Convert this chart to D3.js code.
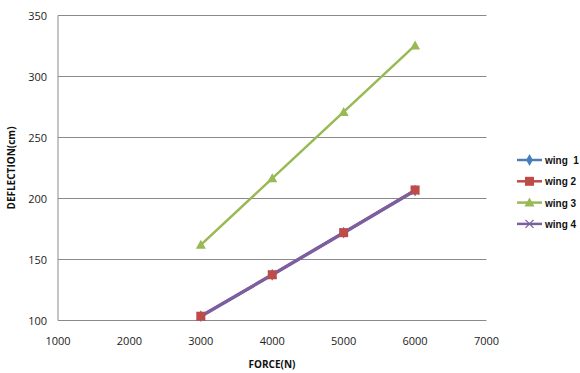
<html>
<head>
  <script src="https://cdn.jsdelivr.net/npm/d3@7"></script>
  <style>
    body { margin:0; background:#fff; }
    text { font-family: "Open Sans", "Liberation Sans", sans-serif; }
  </style>
</head>
<body>
<svg width="580" height="373"></svg>
<script>
// data
const forces = [3000, 4000, 5000, 6000]
const wing1 = [103.5, 137.5, 172, 206.5]
const wing2 = [103.5, 137.5, 172, 207]
const wing3 = [162, 216.5, 271, 325.5]
const wing4 = [103.5, 137.5, 172, 206.5]
const seriesNames = ["wing  1", "wing 2", "wing 3", "wing 4"]
const xTicks = [1000, 2000, 3000, 4000, 5000, 6000, 7000]
const yTicks = [100, 150, 200, 250, 300, 350]

const colors = ["#4A7EBB", "#BE4B48", "#98B954", "#7D5FA0"]
const shapes = ["diamond", "square", "triangle", "x"]

const series = [wing1, wing2, wing3, wing4].map(function(v, i){
  return {name: seriesNames[i], color: colors[i], shape: shapes[i],
          pts: forces.map(function(f, j){ return {x: f, y: v[j]} })}
})

const svg = d3.select("svg")
const pLeft = 58, pRight = 486.5, pTop = 15.5, pBottom = 320.5

const x = d3.scaleLinear().domain([1000, 7000]).range([pLeft, pRight])
const y = d3.scaleLinear().domain([100, 350]).range([pBottom, pTop])

// gridlines
svg.append("g").selectAll("line").data(yTicks).enter().append("line")
  .attr("x1", pLeft).attr("x2", pRight)
  .attr("y1", function(d){ return y(d) }).attr("y2", function(d){ return y(d) })
  .attr("stroke", "#8a8a8a").attr("stroke-width", 1)

// axes
svg.append("line").attr("x1", pLeft).attr("x2", pLeft).attr("y1", pTop).attr("y2", pBottom)
  .attr("stroke", "#8a8a8a")

svg.append("g").selectAll("text").data(yTicks).enter().append("text")
  .attr("x", 47).attr("y", function(d){ return y(d) + 4 })
  .attr("text-anchor", "end").attr("font-size", 11).attr("fill", "#222")
  .text(function(d){ return d })

svg.append("g").selectAll("text").data(xTicks).enter().append("text")
  .attr("x", function(d){ return x(d) }).attr("y", 345)
  .attr("text-anchor", "middle").attr("font-size", 11).attr("fill", "#222")
  .text(function(d){ return d })

svg.append("text").attr("x", 272).attr("y", 368)
  .attr("text-anchor", "middle").attr("font-size", 10).attr("font-weight", "bold")
  .attr("fill", "#111").text("FORCE(N)")

svg.append("text").attr("transform", "translate(15,168) rotate(-90)")
  .attr("text-anchor", "middle").attr("font-size", 10).attr("font-weight", "bold")
  .attr("fill", "#111").text("DEFLECTION(cm)")

// lines
const line = d3.line().x(function(d){ return x(d.x) }).y(function(d){ return y(d.y) })

function marker(g, shape, color, cx, cy){
  if(shape == "diamond"){
    g.append("path").attr("d", d3.symbol().type(d3.symbolDiamond).size(40)())
      .attr("transform", "translate(" + cx + "," + cy + ")").attr("fill", color)
  } else if(shape == "square"){
    g.append("rect").attr("x", cx - 4.5).attr("y", cy - 4.5)
      .attr("width", 9).attr("height", 9).attr("fill", color)
  } else if(shape == "triangle"){
    g.append("path").attr("d", "M" + cx + "," + (cy - 5) + "L" + (cx + 5) + "," + (cy + 4) + "L" + (cx - 5) + "," + (cy + 4) + "Z")
      .attr("fill", color)
  } else {
    g.append("path").attr("d", "M" + (cx - 4) + "," + (cy - 4) + "L" + (cx + 4) + "," + (cy + 4) + "M" + (cx - 4) + "," + (cy + 4) + "L" + (cx + 4) + "," + (cy - 4))
      .attr("stroke", color).attr("stroke-width", 1.3)
  }
}

series.forEach(function(s, i){
  svg.append("path").datum(s.pts).attr("d", line)
    .attr("fill", "none").attr("stroke", s.color).attr("stroke-width", i == 3 ? 3.5 : 2.5)
})
// markers on top of all lines
;[0, 3, 1, 2].forEach(function(i){
  const s = series[i]
  const g = svg.append("g")
  s.pts.forEach(function(p){ marker(g, s.shape, s.color, x(p.x), y(p.y)) })
})

// legend
series.forEach(function(s, i){
  const ly = 160 + i * 21.3
  const g = svg.append("g")
  g.append("line").attr("x1", 517).attr("x2", 542).attr("y1", ly).attr("y2", ly)
    .attr("stroke", s.color).attr("stroke-width", 2.5)
  marker(g, s.shape, s.color, 529.5, ly)
  g.append("text").attr("x", 545).attr("y", ly + 4)
    .attr("font-size", 10).attr("font-weight", "bold").attr("fill", "#111")
    .style("font-family", "'Liberation Sans', Arial, sans-serif")
    .style("white-space", "pre")
    .text(s.name)
})
</script>
</body>
</html>
